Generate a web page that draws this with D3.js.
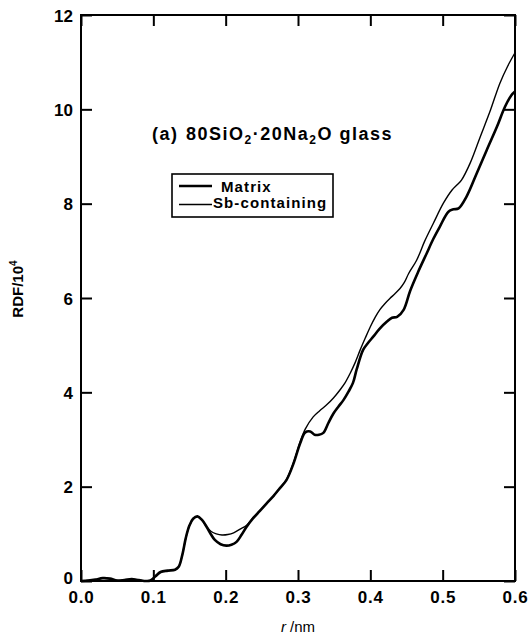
<!DOCTYPE html>
<html>
<head>
<meta charset="utf-8">
<script src="https://cdn.jsdelivr.net/npm/d3@7"></script>
<style>
  html, body { margin: 0; padding: 0; background: #fff; }
  svg { display: block; }
  text { font-family: "Liberation Sans", Arial, Helvetica, sans-serif; fill: #000; }
</style>
</head>
<body>
<svg id="chart" width="529" height="642"></svg>
<script>
// Radial distribution functions, r in nm, RDF in units of 10^4
const matrixR = [0,0.01,0.02,0.03,0.04,0.05,0.06,0.07,0.08,0.09,
  0.096,0.103,0.11,0.12,0.13,0.135,0.14,0.145,0.15,0.155,
  0.161,0.167,0.174,0.18,0.185,0.193,0.201,0.208,0.215,0.222,
  0.229,0.238,0.247,0.257,0.266,0.275,0.284,0.294,0.303,0.31,
  0.317,0.323,0.329,0.335,0.342,0.349,0.356,0.363,0.37,0.376,
  0.381,0.39,0.397,0.404,0.413,0.423,0.43,0.437,0.446,0.455,
  0.466,0.478,0.487,0.496,0.508,0.515,0.522,0.533,0.547,0.561,
  0.575,0.586,0.595,0.6];
const matrixRDF = [0,0.01,0.03,0.06,0.05,0.01,0.02,0.04,0.02,0,
  0.01,0.1,0.19,0.22,0.24,0.3,0.55,0.92,1.18,1.32,
  1.37,1.3,1.14,0.98,0.87,0.78,0.75,0.77,0.83,0.98,
  1.15,1.33,1.48,1.65,1.8,1.97,2.14,2.5,2.92,3.15,
  3.17,3.1,3.1,3.14,3.35,3.55,3.7,3.84,4.02,4.2,
  4.48,4.9,5.05,5.18,5.35,5.5,5.58,5.6,5.75,6.15,
  6.55,6.95,7.25,7.51,7.83,7.88,7.9,8.15,8.64,9.14,
  9.63,10.05,10.3,10.38];

const sbR = [0,0.01,0.02,0.03,0.04,0.05,0.06,0.07,0.08,0.09,
  0.096,0.103,0.11,0.12,0.13,0.135,0.14,0.145,0.15,0.155,
  0.161,0.167,0.174,0.18,0.187,0.195,0.203,0.211,0.22,0.229,
  0.238,0.247,0.257,0.266,0.275,0.284,0.294,0.303,0.31,0.321,
  0.33,0.34,0.349,0.358,0.365,0.372,0.379,0.386,0.393,0.4,
  0.407,0.413,0.42,0.427,0.434,0.441,0.447,0.453,0.464,0.475,
  0.487,0.501,0.513,0.52,0.526,0.538,0.552,0.566,0.579,0.59,0.6];
const sbRDF = [0,0.01,0.03,0.06,0.05,0.01,0.02,0.04,0.02,0,
  0.01,0.1,0.19,0.22,0.24,0.3,0.55,0.92,1.18,1.32,
  1.37,1.3,1.14,1.05,1.0,0.975,0.985,1.02,1.1,1.18,
  1.35,1.49,1.65,1.8,1.97,2.15,2.52,2.95,3.22,3.48,
  3.61,3.74,3.88,4.05,4.2,4.4,4.63,4.9,5.15,5.39,
  5.6,5.75,5.88,5.99,6.09,6.2,6.33,6.52,6.8,7.2,
  7.58,8.01,8.29,8.4,8.5,8.86,9.42,9.98,10.55,10.92,11.2];

const xTicks = [0, 0.1, 0.2, 0.3, 0.4, 0.5, 0.6];
const xTickLabels = ["0.0", "0.1", "0.2", "0.3", "0.4", "0.5", "0.6"];
const yTicks = [0, 2, 4, 6, 8, 10, 12];
const yTickLabels = ["0", "2", "4", "6", "8", "10", "12"];
const seriesNames = ["Matrix", "Sb-containing"];

const svg = d3.select("#chart");
const plot = { left: 81, right: 515, top: 15, bottom: 581 };

const x = d3.scaleLinear().domain([0, 0.6]).range([plot.left, plot.right]);
const y = d3.scaleLinear().domain([0, 12]).range([plot.bottom, plot.top]);

const tickLen = 11;
const tickFont = "bold 17px 'Liberation Sans', Arial, sans-serif";

// Bottom axis: inward ticks with labels
const gBottom = svg.append("g")
  .attr("transform", `translate(0,${plot.bottom})`)
  .call(d3.axisBottom(x).tickValues(xTicks)
    .tickFormat((d, i) => xTickLabels[i])
    .tickSizeInner(-tickLen).tickSizeOuter(0).tickPadding(10));
// Top axis: mirrored ticks only
const gTop = svg.append("g")
  .attr("transform", `translate(0,${plot.top})`)
  .call(d3.axisTop(x).tickValues(xTicks).tickFormat("")
    .tickSizeInner(-tickLen).tickSizeOuter(0));
// Left axis: inward ticks with labels
const gLeft = svg.append("g")
  .attr("transform", `translate(${plot.left},0)`)
  .call(d3.axisLeft(y).tickValues(yTicks)
    .tickFormat((d, i) => yTickLabels[i])
    .tickSizeInner(-tickLen).tickSizeOuter(0).tickPadding(8));
// Right axis: mirrored ticks only
const gRight = svg.append("g")
  .attr("transform", `translate(${plot.right},0)`)
  .call(d3.axisRight(y).tickValues(yTicks).tickFormat("")
    .tickSizeInner(-tickLen).tickSizeOuter(0));

[gBottom, gTop, gLeft, gRight].forEach(g => {
  g.select(".domain").remove();
  g.selectAll(".tick line").attr("stroke", "#000").attr("stroke-width", 2);
  g.selectAll("text").style("font", tickFont).attr("fill", "#000");
});
// the zero label sits a little above its tick so it clears "0.0"
gLeft.selectAll("text").attr("dy", d => d === 0 ? "0.12em" : "0.36em");
gBottom.selectAll("text").attr("dy", "0.71em").attr("letter-spacing", "0.8px");

// Frame
svg.append("rect")
  .attr("x", plot.left).attr("y", plot.top)
  .attr("width", plot.right - plot.left).attr("height", plot.bottom - plot.top)
  .attr("fill", "none").attr("stroke", "#000").attr("stroke-width", 2);

// Curves
const line = d3.line()
  .x(d => x(d[0])).y(d => y(d[1]))
  .curve(d3.curveCatmullRom.alpha(0.5));

const sbData = d3.zip(sbR, sbRDF);
const matrixData = d3.zip(matrixR, matrixRDF);

svg.append("path").datum(sbData)
  .attr("d", line).attr("fill", "none")
  .attr("stroke", "#000").attr("stroke-width", 1.4)
  .attr("stroke-linejoin", "round");
svg.append("path").datum(matrixData)
  .attr("d", line).attr("fill", "none")
  .attr("stroke", "#000").attr("stroke-width", 2.6)
  .attr("stroke-linejoin", "round");

// Title: (a) 80SiO2·20Na2O glass
const title = svg.append("text")
  .attr("y", 140)
  .style("font-weight", "bold").style("font-size", "18px")
  .attr("letter-spacing", "1.5px");
title.append("tspan").attr("x", 152).text("(a)");
const comp = title.append("tspan").attr("x", 186);
comp.append("tspan").text("80SiO");
comp.append("tspan").attr("dy", 4).style("font-size", "12px").text("2");
comp.append("tspan").attr("dy", -4).text("·20Na");
comp.append("tspan").attr("dy", 4).style("font-size", "12px").text("2");
comp.append("tspan").attr("dy", -4).text("O glass");

// Legend
const legend = svg.append("g");
legend.append("rect")
  .attr("x", 172).attr("y", 174).attr("width", 161).attr("height", 43)
  .attr("fill", "#fff").attr("stroke", "#000").attr("stroke-width", 1.6);
const legendRows = [
  { name: seriesNames[0], ly: 186, ty: 192, tx: 221, w: 2.6 },
  { name: seriesNames[1], ly: 204.5, ty: 208, tx: 213, w: 1.4 }
];
legendRows.forEach(r => {
  legend.append("line")
    .attr("x1", 179).attr("x2", 212).attr("y1", r.ly).attr("y2", r.ly)
    .attr("stroke", "#000").attr("stroke-width", r.w);
  legend.append("text")
    .attr("x", r.tx).attr("y", r.ty)
    .style("font-weight", "bold").style("font-size", "15px")
    .attr("letter-spacing", "1.1px")
    .text(r.name);
});

// Axis titles
const yTitle = svg.append("text")
  .attr("transform", "translate(23,289) rotate(-90)")
  .attr("text-anchor", "middle")
  .style("font-weight", "bold").style("font-size", "15px");
yTitle.append("tspan").text("RDF/10");
yTitle.append("tspan").attr("dy", -6).style("font-size", "10px").text("4");

const xTitle = svg.append("text")
  .attr("x", 298).attr("y", 632)
  .attr("text-anchor", "middle")
  .style("font-size", "15px");
xTitle.append("tspan").style("font-style", "italic").text("r");
xTitle.append("tspan").text(" /nm");
</script>
</body>
</html>
